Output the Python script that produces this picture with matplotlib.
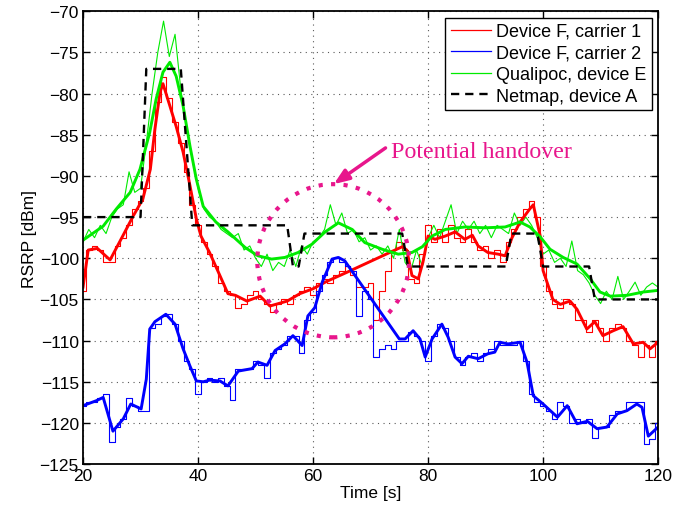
import matplotlib
matplotlib.use("Agg")
import matplotlib.pyplot as plt
from matplotlib.patches import Ellipse
import numpy as np

# ---------------- data ----------------
raw_time = list(range(20, 121))

red_raw = [-104, -99, -98.5, -99, -100.5, -100.5, -98.5, -97.5, -96, -94,
           -93, -91.5, -87, -81, -78, -80.5, -83.5, -86, -89.5, -93.5,
           -96, -98, -99.5, -101, -103, -104, -104.5, -106, -105.5, -104.5,
           -104, -105, -105.5, -106.5, -105.5, -105, -105.5, -104.5, -104, -103.5,
           -104.5, -103, -102.5, -103, -102, -101.5, -101, -102, -103.5, -103.5,
           -103, -107.5, -104, -101.5, -99, -98, -99, -102.5, -103, -99.5,
           -96, -98, -96.5, -98, -96, -97.5, -98, -96.5, -98, -99,
           -98.5, -100, -99, -100.5, -98, -96.5, -95, -94, -93, -95,
           -101, -104, -105.5, -106, -105, -105.5, -107.5, -107.5, -109, -107.5,
           -108.5, -110, -108.5, -108, -108.5, -110, -110.5, -112, -110.5, -112,
           -110]

blue_raw = [-118, -117.5, -117.5, -117, -116.5, -122.3, -120.5, -119.5, -117, -118,
            -118.5, -118.5, -108.5, -108, -107, -106.8, -108, -110, -112.5, -113.5,
            -116.5, -115, -114.5, -115, -114.5, -115.5, -117.2, -113.5, -113.5, -113.5,
            -112.5, -113, -114.5, -111.5, -111, -110.5, -109.5, -109.5, -111.5, -107.5,
            -106.5, -104, -102, -100.5, -100, -100.5, -101, -101.5, -107, -104,
            -105, -112, -111, -110.5, -111, -110, -110, -109, -109.5, -110,
            -112.5, -109.5, -108, -108.5, -110, -112, -113, -112, -111.5, -112.5,
            -111.5, -111, -110, -110.5, -110.5, -110.5, -110, -112.5, -116.5, -117.5,
            -118, -118.5, -119.5, -117.5, -118, -120, -119.5, -120, -119.5, -121.8,
            -120.5, -120.5, -119, -118.5, -118.5, -117.5, -117.5, -117.5, -122.5, -122,
            -120]

green_raw = [-98, -96.5, -97.5, -96, -97, -95, -94, -93.5, -89.5, -92,
             -91.5, -86, -80, -75, -71.2, -75.5, -72.8, -79.5, -84, -88,
             -91.5, -94, -95, -95.5, -96.5, -97, -97.5, -97, -99, -98.5,
             -100, -101, -99.5, -101.5, -100.5, -101, -99, -101, -98.5, -99.5,
             -98, -97.5, -96.5, -93.5, -96, -94.5, -97, -96.5, -98, -97.5,
             -99, -98.5, -99.5, -98.5, -100, -96.5, -100.5, -101.5, -99, -101,
             -97.5, -96, -97.5, -95.5, -93.5, -97, -95.5, -96.5, -95.5, -97,
             -96, -97.5, -96, -96.5, -97, -94.5, -96, -95, -96, -97.5,
             -99.5, -99, -100.5, -100, -101, -97.9, -101.5, -102, -103, -104.5,
             -105.5, -104, -105, -102.2, -105, -104, -102.9, -104.5, -103.5, -103,
             -103.5]

red_smooth_t = [20, 20.9, 22.5, 24.7, 26.6, 28.7, 30.4, 31.7, 32.5, 33.4, 33.9, 35.1,
                36.2, 37.4, 38.6, 39.7, 40.5, 42, 43.8, 45.2, 46.5, 48.5, 50.8, 52.5,
                55.5, 57.7, 60, 62.4, 64, 65.9, 75.5, 76.3, 77.2, 78.3, 79.1, 80,
                81.2, 83, 84.7, 86.4, 87.7, 88.7, 90.4, 92.2, 93.4, 94.6, 96, 97.7,
                98.3, 99.5, 100, 101.7, 103, 104.7, 105.9, 107.6, 109, 110.4, 112.2,
                113.9, 115.7, 117.4, 118.6, 120]
red_smooth = [-103.5, -99, -98.8, -100.2, -97.7, -94.9, -92.8, -89.2, -84.3, -79.8, -78.8, -81.5,
              -84, -87.1, -91.2, -95.2, -97.3, -99.3, -102.1, -104.3, -104.5, -105.2, -104.6, -105.8,
              -105.2, -104.3, -103.7, -102.8, -102.3, -101.7, -98.6, -99, -102.1, -102.5, -100.5, -97.3,
              -97.7, -97.3, -96.8, -97.7, -97.2, -98.5, -99.3, -99.5, -99.7, -97.5, -95.6, -94,
              -93.5, -97.3, -101.5, -105, -105.6, -105.2, -106.2, -108.6, -107.7, -109.4, -108.8,
              -108.3, -110.4, -110.2, -111, -110.2]

blue_smooth_t = [20, 22.3, 23.5, 25.2, 27, 28.3, 30.1, 31, 31.6, 32.5, 34.4, 36, 37.4,
                 38.6, 39.7, 40.9, 42, 43.8, 45.2, 47, 49.4, 50.4, 52, 53.4, 55.1, 56.5,
                 58.1, 59.1, 60.3, 61.6, 63.3, 64.4, 65.5, 75, 76, 77.4, 78.6, 79.5, 80.7,
                 82.4, 83.5, 84.7, 85.9, 87, 88.7, 90.4, 91.6, 92.5, 93.9, 96, 97.2, 98.3,
                 100, 102.5, 104.2, 105.9, 107.7, 109.4, 111.1, 112.9, 114.6, 116.3, 117.2,
                 118.3, 120]
blue_smooth = [-117.9, -117.3, -116.9, -121, -119.5, -117.7, -118.3, -114.7, -108.6, -107.7, -106.8, -108, -111,
               -113.1, -114.9, -115, -114.8, -114.9, -115.5, -113.7, -113.4, -112.6, -113, -111.2, -110.4, -109.4,
               -110.6, -107, -106, -102.9, -100.1, -99.9, -100.3, -109.8, -109.8, -108.8, -109.8, -112, -109.8,
               -108, -109.6, -112, -112.8, -111.9, -112.2, -111.6, -111.4, -110.2, -110.4, -110.2, -112.6, -116.7,
               -117.7, -119.3, -117.9, -120.1, -119.8, -120.7, -120.5, -118.9, -118.5, -117.7, -118.1,
               -121.6, -120.5]

green_smooth_t = [20, 23.5, 25.8, 28.2, 29.9, 31.6, 32.7, 33.9, 35.1, 36.2, 37.4, 38.6, 39.7,
                  40.9, 43.1, 45.2, 48.2, 50.4, 52.8, 55.1, 57.4, 59.8, 62.1, 64.4, 66.8, 69,
                  72, 74.8, 77.2, 79, 80.7, 83, 86.4, 89.9, 93.4, 96, 97.7, 99.5, 101.2, 103.5,
                  105.9, 108.2, 109.9, 111.7, 114.6, 117.4, 120]
green_smooth = [-97.8, -96.1, -94, -92, -89.2, -84.7, -80.7, -77.4, -76.2, -77.9, -81.5, -86.4, -90.4,
                -93.7, -95.6, -96.8, -98.7, -99.7, -100.1, -99.9, -99.3, -98.3, -96.8, -95.7, -96.5, -98.1,
                -98.9, -99.5, -99.3, -98.6, -97.3, -96.5, -96.2, -96.3, -96.2, -95.6, -96.2, -97.4, -98.9, -99.9,
                -100.7, -102.5, -104.1, -104.6, -104.5, -104.1, -103.9]

netmap_t = [20, 30, 31, 37, 39, 55.5, 56.5, 57.5, 58.5, 75.5, 76.5, 93.5, 94.5, 99, 100, 108, 109, 120]
netmap = [-95, -95, -77, -77, -96, -96, -101, -101, -97, -97, -101, -101, -97, -97, -101, -101, -105, -105]

labels = ["Device F, carrier 1", "Device F, carrier 2", "Qualipoc, device E", "Netmap, device A"]
x_ticks = [20, 40, 60, 80, 100, 120]
y_ticks = list(range(-125, -69, 5))

# ---------------- plot ----------------
plt.rcParams['font.family'] = ['Liberation Sans', 'DejaVu Sans']
RED, BLUE, GREEN = (1, 0, 0), (0, 0, 1), (0, 0.92, 0)
MAG = '#E8168C'

fig = plt.figure(figsize=(6.92, 5.10), dpi=100)
ax = fig.add_axes([0.12, 0.088, 0.831, 0.888])

ax.plot(raw_time, red_raw, color=RED, lw=0.8, drawstyle='steps-mid')
ax.plot(raw_time, blue_raw, color=BLUE, lw=0.8, drawstyle='steps-mid')
ax.plot(raw_time, green_raw, color=GREEN, lw=0.8)

ax.plot(red_smooth_t, red_smooth, color=RED, lw=2.1, solid_joinstyle='round')
ax.plot(blue_smooth_t, blue_smooth, color=BLUE, lw=2.1, solid_joinstyle='round')
ax.plot(green_smooth_t, green_smooth, color=GREEN, lw=2.1, solid_joinstyle='round')
ax.plot(netmap_t, netmap, color='k', lw=1.7, linestyle=(0, (3.5, 2.5)))

# legend proxies
h1, = ax.plot([], [], color=RED, lw=0.9)
h2, = ax.plot([], [], color=BLUE, lw=0.9)
h3, = ax.plot([], [], color=GREEN, lw=0.9)
h4, = ax.plot([], [], color='k', lw=1.7, linestyle=(0, (3.5, 2.5)))
leg = ax.legend([h1, h2, h3, h4], labels, loc='upper right', fontsize=13,
                fancybox=False, framealpha=1, edgecolor='k', handlelength=2.2,
                borderaxespad=0.35, borderpad=0.3, labelspacing=0.25, handletextpad=0.3)
leg.get_frame().set_linewidth(1.0)

# annotation
ell = Ellipse((63.5, -100.3), 26.4, 18.6, fill=False, edgecolor=MAG, lw=3,
              linestyle=(0, (1, 2)), zorder=5)
ax.add_patch(ell)
ax.annotate('', xy=(63.6, -91.0), xytext=(72.6, -86.6),
            arrowprops=dict(arrowstyle='-|>,head_length=0.9,head_width=0.35',
                            color=MAG, lw=2.5, shrinkA=0, shrinkB=0), zorder=6)
ax.text(73.6, -87.0, 'Potential handover', color=MAG, fontsize=17.3,
        family=['Liberation Serif', 'DejaVu Serif'], va='center', ha='left')

ax.set_xlim(20, 120)
ax.set_ylim(-125, -70)
ax.set_xticks(x_ticks)
ax.set_yticks(y_ticks)
ax.set_yticklabels([f"\u2212{abs(v)}" for v in y_ticks])
ax.tick_params(direction='in', length=5, width=1, top=True, right=True, labelsize=12.5, pad=3)
ax.grid(True, linestyle=(0, (1, 4)), color='0.35', lw=0.8)
for s in ax.spines.values():
    s.set_linewidth(1.3)
ax.set_xlabel('Time [s]', fontsize=12.5, labelpad=1)
ax.set_ylabel('RSRP [dBm]', fontsize=12.5, labelpad=2)

fig.savefig('out.png', dpi=100)
